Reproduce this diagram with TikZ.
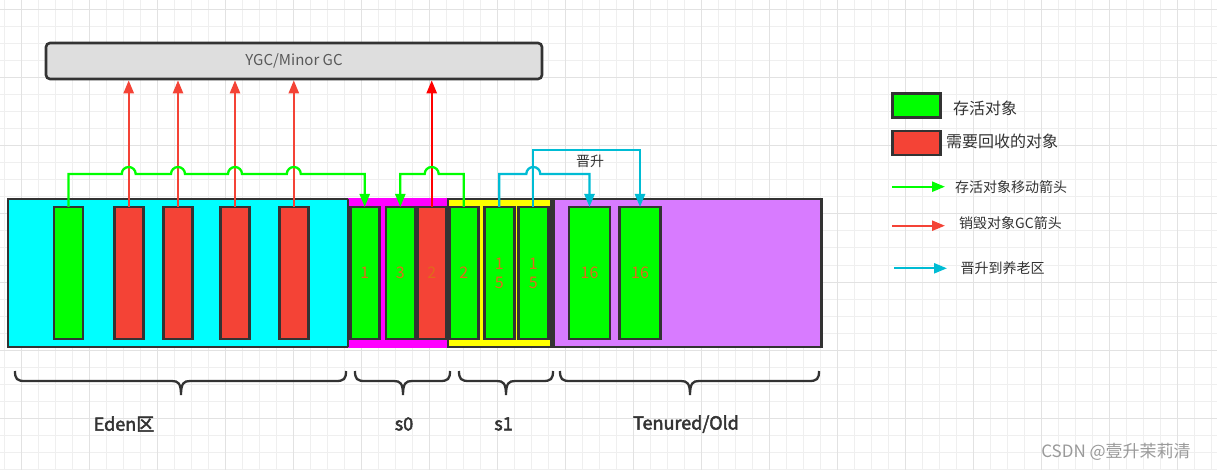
\documentclass[tikz,border=0pt]{standalone}
\usepackage{fontspec}
\setmainfont{Noto Sans CJK SC}[AutoFakeBold=2.5]
\usetikzlibrary{arrows.meta}
\definecolor{dark}{HTML}{333333}
\definecolor{edenc}{HTML}{00FFFF}
\definecolor{s0c}{HTML}{FF00FF}
\definecolor{s1c}{HTML}{FFFF00}
\definecolor{oldc}{HTML}{D87BFF}
\definecolor{objgreen}{HTML}{00FF00}
\definecolor{objred}{HTML}{F44336}
\definecolor{numc}{HTML}{E06A1B}
\definecolor{linegreen}{HTML}{00FF00}
\definecolor{linered}{HTML}{F44336}
\definecolor{linered2}{HTML}{FF0000}
\definecolor{lineblue}{HTML}{00BCD4}
\definecolor{ygcfill}{HTML}{DEDEDE}
\definecolor{gridl}{HTML}{EFEFEF}
\definecolor{gridh}{HTML}{E2E2E2}
\definecolor{txt}{HTML}{333333}
\definecolor{wm}{HTML}{9A9A9A}
\tikzset{
  region/.style={line width=2.6pt, inner sep=0pt, outer sep=0pt, minimum height=148pt},
  obj/.style={draw=dark, line width=2.6pt, inner sep=0pt, outer sep=0pt, minimum height=132pt,
    font=\fontsize{16}{19}\selectfont, text=numc},
  gbox/.style={obj, fill=objgreen, minimum width=29pt},
  rbox/.style={obj, fill=objred, minimum width=29pt},
  wbox/.style={obj, fill=objgreen, minimum width=41pt},
  tip/.style={-{Triangle[length=13pt,width=10pt]}},
  gline/.style={draw=linegreen, line width=2.3pt},
  rline/.style={draw=linered, line width=2.3pt, tip},
  bline/.style={draw=lineblue, line width=2.3pt},
  legtext/.style={anchor=west, inner sep=0pt, text=txt, font=\fontsize{14}{16}\selectfont},
  bigleg/.style={anchor=west, inner sep=0pt, text=txt, font=\fontsize{16}{18}\selectfont},
  zone/.style={text=txt, font=\fontsize{18}{20}\selectfont\bfseries},
  brace/.style={draw=dark, line width=2.3pt}
}
\begin{document}
\begin{tikzpicture}[x=1pt,y=-1pt]
\useasboundingbox (0,0) rectangle (1217,470);
\fill[white] (0,0) rectangle (1217,470);
% grid
\foreach \i in {0,...,71} \draw[gridl, line width=1pt] ({4.7+17*\i},0) -- ({4.7+17*\i},470);
\foreach \i in {0,...,27} \draw[gridl, line width=1pt] (0,{10+17*\i}) -- (1217,{10+17*\i});
\foreach \i in {0,...,17} \draw[gridh, line width=1pt] ({21.7+68*\i},0) -- ({21.7+68*\i},470);
\foreach \i in {0,...,6} \draw[gridh, line width=1pt] (0,{10+68*\i}) -- (1217,{10+68*\i});

% YGC box
\node[draw=dark, fill=ygcfill, line width=2.6pt, rounded corners=4pt, minimum width=496pt,
  minimum height=36pt, inner sep=0pt, text=black!65, font=\fontsize{15}{17}\selectfont]
  (ygc) at (294,61) {YGC/Minor GC};

% regions
\node[region, draw=dark, fill=edenc, minimum width=340pt] (eden) at (178,273) {};
\node[region, draw=s0c, fill=s0c, minimum width=97pt] (s0) at (397.5,273) {};
\node[region, draw=dark, fill=s1c, minimum width=103pt] (s1) at (499.5,273) {};
\node[region, draw=dark, fill=oldc, minimum width=268pt] (old) at (687.75,273) {};
\draw[dark, line width=2.6pt] (eden.north east) -- (eden.south east);

% objects
\node[gbox] (e0) at (68.5,273) {};
\node[rbox] (e1) at (128.7,273) {};
\node[rbox] (e2) at (178,273) {};
\node[rbox] (e3) at (235,273) {};
\node[rbox] (e4) at (293.8,273) {};
\node[gbox] (a1) at (364.7,273) {1};
\node[gbox] (a2) at (400.3,273) {3};
\node[rbox] (a3) at (431.7,273) {2};
\node[gbox] (b1) at (463.8,273) {2};
\node[gbox, minimum width=30pt, align=center] (b2) at (499.2,273) {1\\5};
\node[gbox, minimum width=30pt, align=center] (b3) at (533.3,273) {1\\5};
\node[wbox] (o1) at (589.5,273) {16};
\node[wbox] (o2) at (640,273) {16};

% red GC arrows
\foreach \n in {e1,e2,e3,e4} \draw[rline] (\n.north) -- (\n.north |- ygc.south);
\draw[rline, draw=linered2] (a3.north) -- (a3.north |- ygc.south);

% green moves
\draw[gline, tip] (e0.north) -- (e0.north |- 0,174) -- (121.7,174) arc(180:360:7)
  -- (171,174) arc(180:360:7) -- (228,174) arc(180:360:7) -- (286.8,174) arc(180:360:7)
  -- (a1.north |- 0,174) -- (a1.north);
\draw[gline, tip] (b1.north) -- (b1.north |- 0,174) -- (438.7,174) arc(0:-180:7)
  -- (a2.north |- 0,174) -- (a2.north);

% blue promotions
\draw[bline, tip] (b2.north) -- (b2.north |- 0,174) -- (526.3,174) arc(180:360:7)
  -- (o1.north |- 0,174) -- (o1.north);
\draw[bline, tip] (b3.north) -- (b3.north |- 0,150) -- (o2.north |- 0,150) -- (o2.north);
\node[text=txt, font=\fontsize{14}{16}\selectfont, inner sep=0pt] (jsl) at (590,161.5) {晋升};

% legend
\node[draw=dark, fill=objgreen, line width=2.6pt, minimum width=48pt, minimum height=24pt, inner sep=0pt] (lg) at (916.5,105.3) {};
\node[bigleg] (lgt) at (953,108) {存活对象};
\node[draw=dark, fill=objred, line width=2.6pt, minimum width=48pt, minimum height=24pt, inner sep=0pt] (lr) at (916.5,143) {};
\node[bigleg] (lrt) at (946,141.5) {需要回收的对象};
\coordinate (la1) at (892,186.7); \coordinate (la2) at (945,186.7);
\draw[gline, tip] (la1) -- (la2);
\node[legtext] (lat) at (955,187) {存活对象移动箭头};
\coordinate (lb1) at (892,225.7); \coordinate (lb2) at (945,225.7);
\draw[rline] (lb1) -- (lb2);
\node[legtext] (lbt) at (959,222.7) {销毁对象GC箭头};
\coordinate (lc1) at (894,268.3); \coordinate (lc2) at (947,268.3);
\draw[bline, tip] (lc1) -- (lc2);
\node[legtext] (lct) at (960.5,268) {晋升到养老区};

% braces
\foreach \xa/\xm/\xb in {15/181/346, 355/403/450, 459/506/553, 560/690/819} {
  \draw[brace] (\xa,371) .. controls (\xa,379) and (\xa+2,381) .. (\xa+10,381)
    -- (\xm-9,381) .. controls (\xm-3,381) and (\xm,383) .. (\xm,395)
    .. controls (\xm,383) and (\xm+3,381) .. (\xm+9,381)
    -- (\xb-10,381) .. controls (\xb-2,381) and (\xb,379) .. (\xb,371);
}
\node[zone] (ledn) at (124,424) {Eden区};
\node[zone] (ls0) at (404,424) {s0};
\node[zone] (ls1) at (503.5,424) {s1};
\node[zone] (lold) at (686,424) {Tenured/Old};

% watermark
\node[text=wm, font=\fontsize{17}{19}\selectfont, inner sep=0pt] (wmk) at (1116,451.5) {CSDN @壹升茉莉清};
\end{tikzpicture}
\end{document}
